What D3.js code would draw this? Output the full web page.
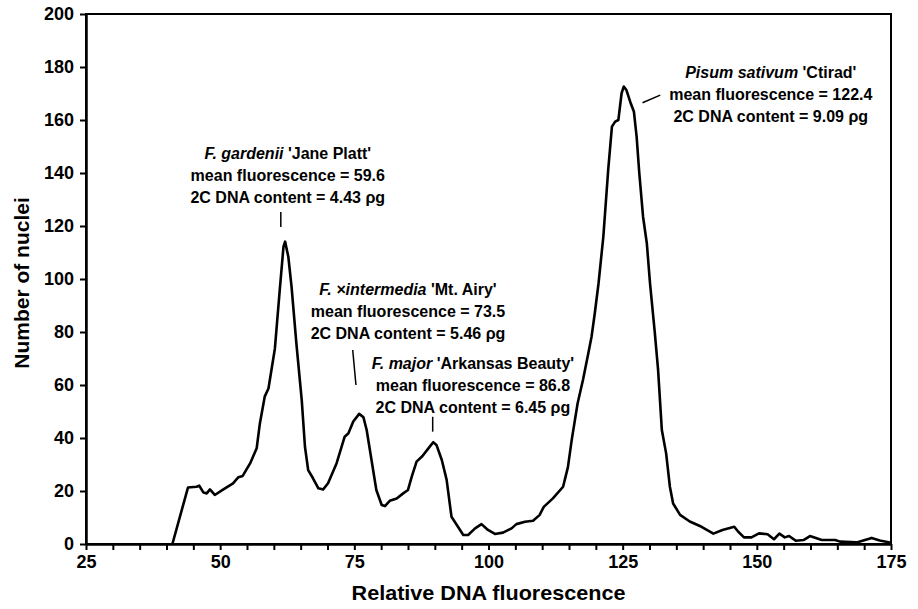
<!DOCTYPE html>
<html lang="en">
<head>
<meta charset="UTF-8">
<title>Flow cytometry histogram</title>
<script src="https://cdnjs.cloudflare.com/ajax/libs/d3/7.8.5/d3.min.js"></script>
<style>
    body { margin: 0; background: #fff; }
    svg { display: block; font-family: "Liberation Sans", Arial, sans-serif; font-weight: bold; }
</style>
</head>
<body>
<div id="chart"></div>
<script>
// relative DNA fluorescence (x) and number of nuclei (y)
const fluorescence = [41.1, 44.0, 45.6, 46.1, 46.9, 47.5, 48.1, 49.0, 50.6, 52.4, 53.4, 54.2, 55.6, 56.8, 57.4, 58.3, 59.0, 60.2, 61.1, 61.8,
    62.1, 62.7, 63.3, 64.2, 65.2, 65.8, 66.4, 67.3, 68.3, 69.2, 70.1, 71.7, 73.2, 73.9, 74.8, 75.9, 76.7, 77.3, 78.2, 79.1,
    80.1, 80.7, 81.6, 82.9, 84.1, 85.0, 85.7, 86.6, 87.7, 88.8, 89.7, 90.3, 91.3, 92.2, 93.1, 94.1, 95.3, 96.2, 97.5, 98.7,
    99.9, 101.2, 102.7, 104.3, 105.2, 106.8, 108.3, 109.5, 110.3, 112.0, 113.9, 114.8, 115.5, 116.6, 117.6, 118.6, 119.2, 119.8, 120.5, 121.4,
    122.3, 123.0, 123.6, 124.2, 124.8, 125.2, 125.7, 126.4, 127.1, 127.6, 128.1, 128.8, 129.5, 130.1, 131.0, 131.6, 132.3, 133.1, 133.8, 134.4,
    135.7, 137.5, 139.7, 141.9, 143.6, 145.8, 146.5, 147.6, 149.0, 150.4, 152.0, 153.2, 154.2, 155.2, 156.0, 157.3, 158.7, 159.9, 162.1, 164.6,
    165.5, 168.6, 171.4, 172.9, 174.8];
const nuclei = [0, 21.3, 21.6, 22.0, 19.4, 19.1, 20.6, 18.5, 20.6, 22.9, 25.2, 25.7, 30.5, 36.1, 45.5, 55.6, 58.7, 73.8, 95.8, 112.2,
    114.1, 108.4, 97.1, 75.7, 54.3, 36.7, 27.9, 24.8, 21.0, 20.6, 22.9, 30.5, 40.5, 41.8, 46.2, 49.1, 47.8, 43.0, 31.7, 20.4,
    14.7, 14.3, 16.3, 17.2, 19.1, 20.4, 25.4, 31.1, 33.2, 36.1, 38.4, 37.4, 31.7, 24.2, 10.3, 7.2, 3.4, 3.4, 5.9, 7.5,
    5.3, 3.8, 4.3, 5.9, 7.5, 8.4, 8.8, 10.9, 14.0, 17.2, 21.6, 29.0, 39.2, 53.0, 61.9, 72.0, 78.2, 87.0, 98.3, 116.0,
    141.1, 157.5, 159.4, 160.0, 170.1, 172.6, 171.3, 166.9, 163.1, 153.7, 139.9, 123.5, 113.5, 98.3, 79.5, 65.7, 43.0, 34.2, 21.6, 15.3,
    11.0, 8.5, 6.5, 3.9, 5.3, 6.5, 4.7, 2.5, 2.5, 4.0, 3.7, 1.8, 3.9, 2.5, 3.0, 1.2, 1.5, 3.0, 1.5, 1.5,
    0.9, 0.6, 2.3, 1.3, 0.6];

const xTickLabels = [25, 50, 75, 100, 125, 150, 175];
const xMinorStep = 5;
const yTicks = [0, 20, 40, 60, 80, 100, 120, 140, 160, 180, 200];

// peak labels: italic name, rest of title, mean fluorescence, 2C DNA content
const peakNames = ["F. gardenii", "F. \u00d7intermedia", "F. major", "Pisum sativum"];
const peakCultivars = ["'Jane Platt'", "'Mt. Airy'", "'Arkansas Beauty'", "'Ctirad'"];
const peakMeans = ["59.6", "73.5", "86.8", "122.4"];
const peakContents = ["4.43", "5.46", "6.45", "9.09"];
// label anchor (center x, first baseline y) and pointer ends, in data units
const labelX = [62.6, 85.0, 97.1, 152.6];
const labelY = [145.3, 94.0, 66.0, 175.8];
const pointerFrom = [[61.3, 125.3], [74.7, 73.2], [89.6, 48.0], [128.7, 166.5]];
const pointerTo = [[61.3, 119.6], [75.3, 60.0], [89.6, 42.4], [132.0, 169.4]];

const W = 918, H = 609;
const margin = { top: 14, right: 27, bottom: 65, left: 86 };
const width = W - margin.left - margin.right;
const height = H - margin.top - margin.bottom;

const svg = d3.select("#chart").append("svg")
    .attr("width", W)
    .attr("height", H);

const g = svg.append("g")
    .attr("transform", `translate(${margin.left},${margin.top})`);

const x = d3.scaleLinear().domain([25, 175]).range([0, width]);
const y = d3.scaleLinear().domain([0, 200]).range([height, 0]);

// frame
g.append("rect")
    .attr("width", width)
    .attr("height", height)
    .attr("fill", "none")
    .attr("stroke", "#000")
    .attr("stroke-width", 2);

const xAxis = d3.axisBottom(x)
    .tickValues(d3.range(25, 175 + 0.1, xMinorStep))
    .tickFormat(d => xTickLabels.includes(d) ? d : "")
    .tickSize(6)
    .tickSizeOuter(0)
    .tickPadding(5);

const yAxis = d3.axisLeft(y)
    .tickValues(yTicks)
    .tickSize(6)
    .tickSizeOuter(0)
    .tickPadding(6);

const gx = g.append("g").attr("transform", `translate(0,${height})`).call(xAxis);
const gy = g.append("g").call(yAxis);

[gx, gy].forEach(a => {
    a.select(".domain").attr("stroke-width", 2.5);
    a.selectAll(".tick line").attr("stroke-width", 2);
    a.selectAll(".tick text")
        .attr("font-family", "Liberation Sans, Arial, sans-serif")
        .attr("font-weight", "bold")
        .attr("font-size", 18)
        .attr("fill", "#000");
});

// axis titles
svg.append("text")
    .attr("x", margin.left + width / 2)
    .attr("y", 600)
    .attr("text-anchor", "middle")
    .attr("font-size", 20)
    .attr("transform", `translate(${margin.left + width / 2},0) scale(1.08,1) translate(${-(margin.left + width / 2)},0)`)
    .text("Relative DNA fluorescence");

svg.append("text")
    .attr("transform", `translate(29,283) rotate(-90)`)
    .attr("text-anchor", "middle")
    .attr("font-size", 21)
    .text("Number of nuclei");

// histogram curve
const points = fluorescence.map((f, i) => [f, nuclei[i]]);
g.append("path")
    .datum(points)
    .attr("fill", "none")
    .attr("stroke", "#000")
    .attr("stroke-width", 2.6)
    .attr("stroke-linejoin", "round")
    .attr("d", d3.line().x(d => x(d[0])).y(d => y(d[1])));

// peak annotations
const lineGap = 22;
peakNames.forEach((name, i) => {
    const cx = x(labelX[i]), by = y(labelY[i]);
    const t = g.append("text")
        .attr("text-anchor", "middle")
        .attr("font-size", 16);
    const l1 = t.append("tspan").attr("x", cx).attr("y", by);
    l1.append("tspan").attr("font-style", "italic").text(name);
    l1.append("tspan").text(" " + peakCultivars[i]);
    t.append("tspan").attr("x", cx).attr("y", by + lineGap)
        .text("mean fluorescence = " + peakMeans[i]);
    t.append("tspan").attr("x", cx).attr("y", by + 2 * lineGap)
        .text("2C DNA content = " + peakContents[i] + " \u03c1g");

    g.append("line")
        .attr("x1", x(pointerFrom[i][0])).attr("y1", y(pointerFrom[i][1]))
        .attr("x2", x(pointerTo[i][0])).attr("y2", y(pointerTo[i][1]))
        .attr("stroke", "#000")
        .attr("stroke-width", 1.5);
});
</script>
</body>
</html>
